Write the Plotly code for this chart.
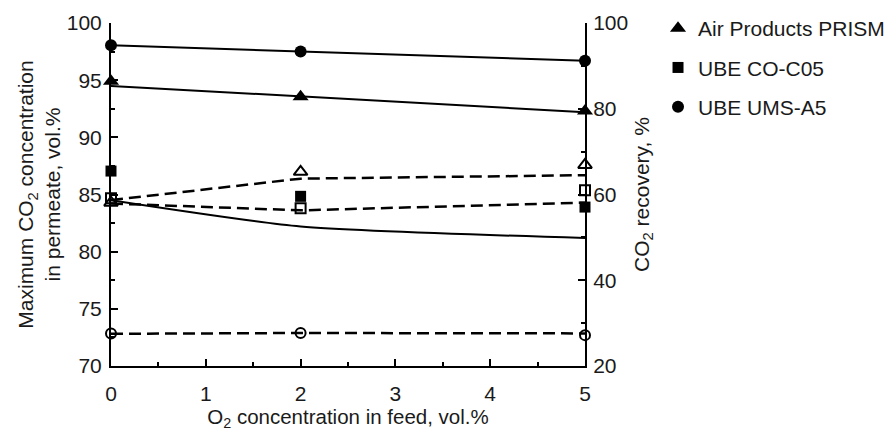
import plotly.graph_objects as go

# O2 concentration in feed, vol.%
o2_feed = [0, 2, 5]

# Maximum CO2 concentration in permeate, vol.% (filled markers, left axis)
prism_conc = [94.9, 93.55, 92.3]
coc05_conc = [87.05, 84.84, 83.9]
umsa5_conc = [98.05, 97.5, 96.7]

# Trend lines for concentration (solid, left axis)
prism_conc_line = [94.5, 93.6, 92.2]
coc05_conc_line = [84.5, 82.2, 81.2]
umsa5_conc_line = [98.05, 97.5, 96.7]

# CO2 recovery, % (open markers, right axis)
prism_rec = [58.1, 65.3, 66.9]
coc05_rec = [59.1, 56.8, 61.0]
umsa5_rec = [27.6, 27.7, 27.2]

# Trend lines for recovery (dashed, right axis)
prism_rec_line = [58.7, 63.7, 64.5]
coc05_rec_line = [57.9, 56.3, 58.1]
umsa5_rec_line = [27.5, 27.7, 27.6]

names = ["Air Products PRISM", "UBE CO-C05", "UBE UMS-A5"]
symbols = ["triangle-up", "square", "circle"]
sizes = [14, 11, 12]

FONT = "Liberation Sans, Arial, sans-serif"
TXT = "#1a1a1a"
fig = go.Figure()

# solid lines (left axis)
for ys, shp in zip([prism_conc_line, coc05_conc_line, umsa5_conc_line], ["linear", "spline", "linear"]):
    fig.add_trace(go.Scatter(x=o2_feed, y=ys, mode="lines", line=dict(color="black", width=2, shape=shp, smoothing=0.6),
                             showlegend=False, hoverinfo="skip", yaxis="y", cliponaxis=False))

# dashed lines (right axis)
for ys in [prism_rec_line, coc05_rec_line, umsa5_rec_line]:
    fig.add_trace(go.Scatter(x=o2_feed, y=ys, mode="lines", line=dict(color="black", width=2.5, dash="12px,6px"),
                             showlegend=False, hoverinfo="skip", yaxis="y2", cliponaxis=False))

# open markers (right axis)
for ys, sym, sz in zip([prism_rec, coc05_rec, umsa5_rec], symbols, [12, 10, 10]):
    fig.add_trace(go.Scatter(x=o2_feed, y=ys, mode="markers",
                             marker=dict(symbol=sym + "-open", size=sz, color="black", line=dict(width=2, color="black")),
                             showlegend=False, yaxis="y2", cliponaxis=False))

# filled markers (left axis) with legend
for i, (ys, sym, sz, nm) in enumerate(zip([prism_conc, coc05_conc, umsa5_conc], symbols, sizes, names)):
    fig.add_trace(go.Scatter(x=o2_feed, y=ys, mode="markers", name=nm, legendgroup=f"g{i}",
                             marker=dict(symbol=sym, size=sz, color="black"),
                             yaxis="y", cliponaxis=False))

axis_common = dict(showline=True, linecolor="black", linewidth=2, showgrid=False, zeroline=False,
                   automargin=False,
                   ticks="inside", ticklen=7, tickwidth=1.5, tickcolor="black",
                   tickfont=dict(family=FONT, size=21, color=TXT))

fig.update_layout(
    width=888, height=428,
    margin=dict(l=103, r=311, t=15, b=70),
    paper_bgcolor="white", plot_bgcolor="white",
    font=dict(family=FONT, color=TXT),
    xaxis=dict(range=[0, 5], dtick=1, **axis_common, ticklabelstandoff=8,
               minor=dict(ticks="inside", dtick=0.5, ticklen=4, tickcolor="black"),
               title=dict(text="O<sub>2</sub> concentration in feed, vol.%", font=dict(family=FONT, size=20.5), standoff=0)),
    yaxis=dict(range=[70, 100], dtick=5, **axis_common, ticklabelstandoff=3,
               minor=dict(ticks="inside", dtick=2.5, ticklen=4, tickcolor="black"),
               title=dict(text="Maximum CO<sub>2</sub> concentration<br>in permeate, vol.%", font=dict(family=FONT, size=21), standoff=0)),
    yaxis2=dict(range=[20, 100], dtick=20, overlaying="y", side="right", **axis_common, ticklabelstandoff=2,
                minor=dict(ticks="inside", dtick=10, ticklen=4, tickcolor="black"),
                title=dict(text="CO<sub>2</sub> recovery, %", font=dict(family=FONT, size=21), standoff=7)),
    legend=dict(xref="container", yref="container", x=0.732, y=1.009, xanchor="left", yanchor="top",
                font=dict(family=FONT, size=21, color=TXT),
                tracegroupgap=9, bgcolor="rgba(0,0,0,0)"),
)

fig.write_html("out.html")
